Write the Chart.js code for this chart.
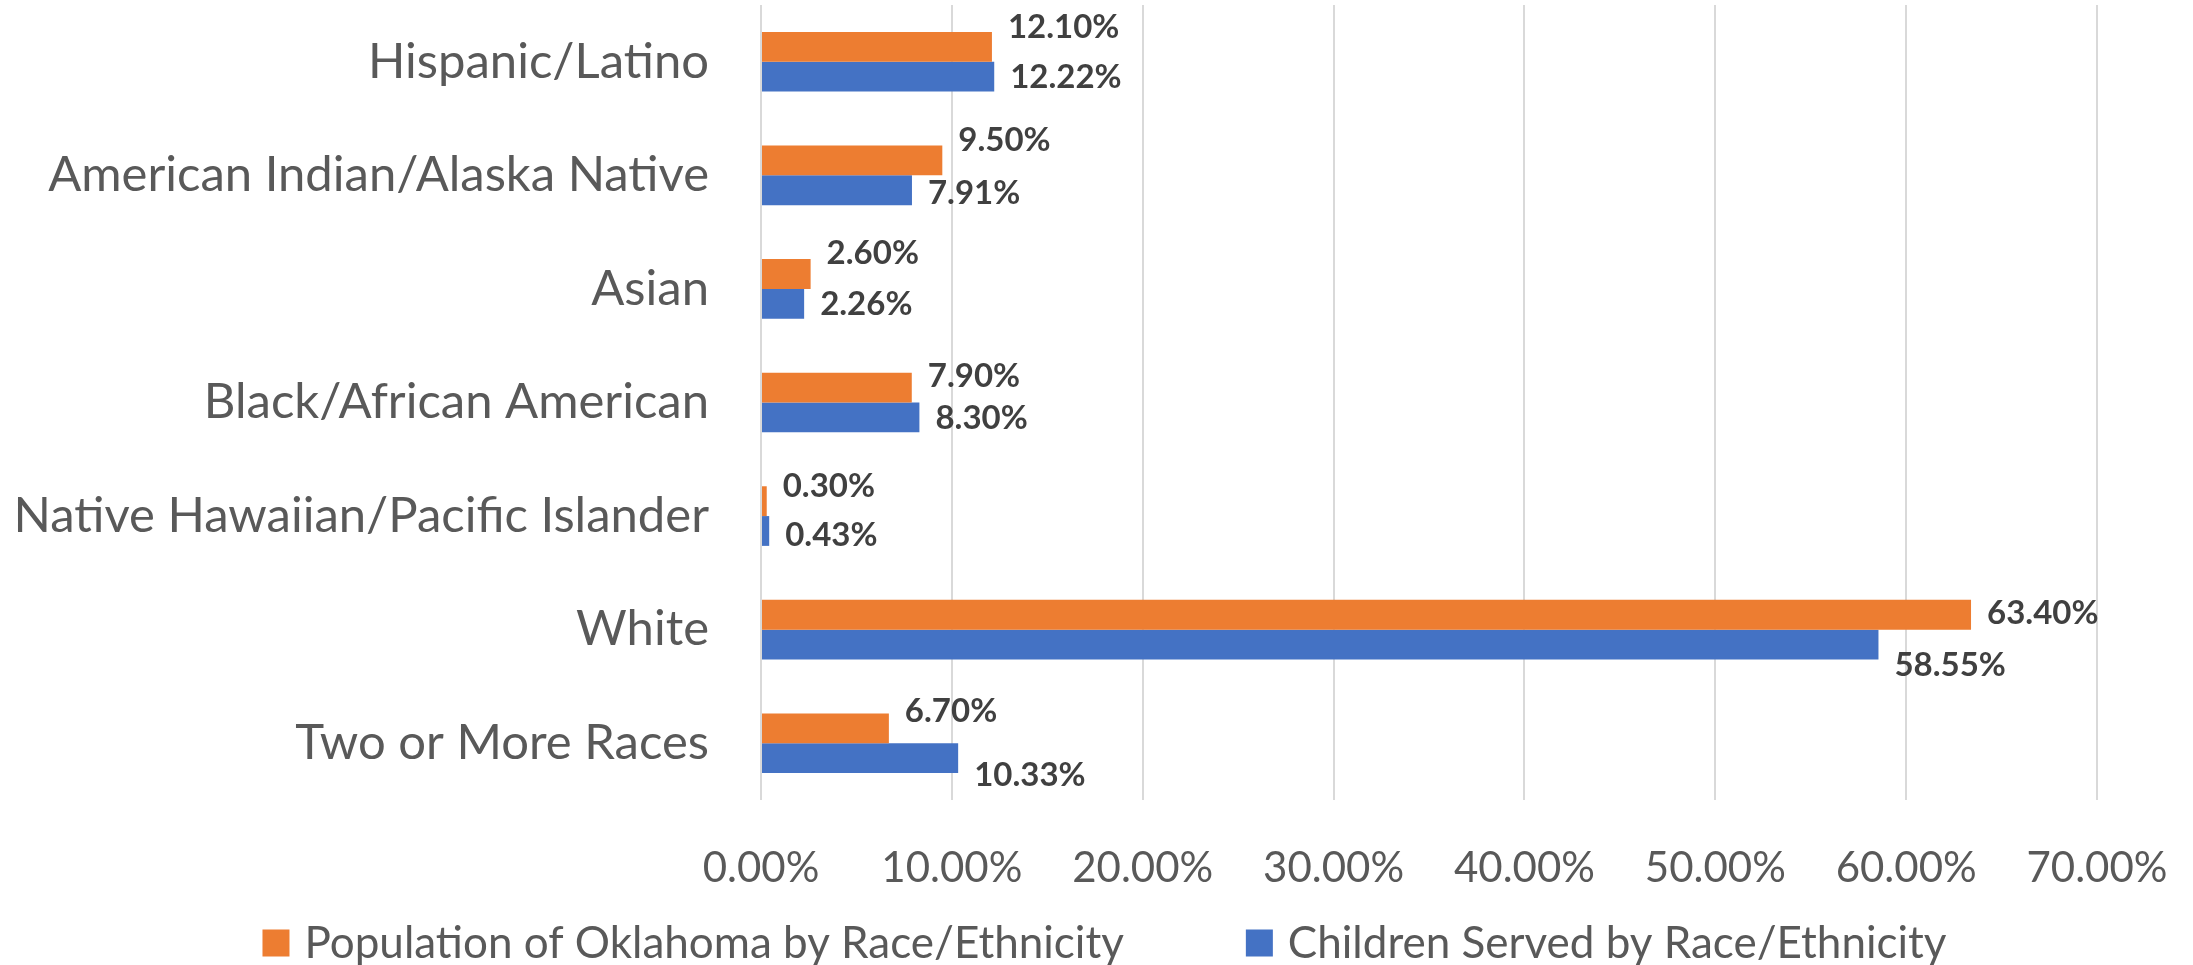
<!DOCTYPE html>
<html>
<head>
<meta charset="utf-8">
<script src="https://cdn.jsdelivr.net/npm/chart.js@4"></script>
<style>
  html, body { margin: 0; padding: 0; background: #fff; }
  #wrap { width: 2193px; height: 965px; }
</style>
</head>
<body>
<div id="wrap"><canvas id="grafica"></canvas></div>
<script>
// Categorías (eje Y)
const categorias = ["Hispanic/Latino", "American Indian/Alaska Native", "Asian",
  "Black/African American", "Native Hawaiian/Pacific Islander", "White", "Two or More Races"];

// Series (porcentajes)
const poblacion = [12.10, 9.50, 2.60, 7.90, 0.30, 63.40, 6.70];
const ninos = [12.22, 7.91, 2.26, 8.30, 0.43, 58.55, 10.33];

// Marcas del eje X
const marcasX = [0, 10, 20, 30, 40, 50, 60, 70];

const NARANJA = "#ED7D31";
const AZUL = "#4472C4";
const FUENTE = "Lato, 'Open Sans', sans-serif";

// Desplazamiento vertical de las etiquetas de datos (como en Excel)
const desplaza = [[-20, 1], [-20, 3], [-21, 1], [-11, 1], [-15, 4], [-1, 21], [-17, 17]];

const etiquetasDatos = {
  id: "etiquetasDatos",
  afterDatasetsDraw(chart) {
    const ctx = chart.ctx;
    ctx.save();
    ctx.font = "bold 33px " + FUENTE;
    ctx.fillStyle = "#404040";
    ctx.textAlign = "left";
    ctx.textBaseline = "middle";
    chart.data.datasets.forEach((ds, i) => {
      chart.getDatasetMeta(i).data.forEach((bar, j) => {
        ctx.fillText(ds.data[j].toFixed(2) + "%", bar.x + 16, bar.y + desplaza[j][i]);
      });
    });
    ctx.restore();
  }
};

// Leyenda propia en la parte inferior
const leyenda = {
  id: "leyenda",
  afterDraw(chart) {
    const ctx = chart.ctx;
    ctx.save();
    ctx.font = "44px " + FUENTE;
    ctx.textBaseline = "middle";
    ctx.textAlign = "left";
    const caja = 27, hueco = 15, entre = 122;
    const items = chart.data.datasets.map(d => ({ t: d.label, c: d.backgroundColor, w: ctx.measureText(d.label).width }));
    let total = items.reduce((s, it) => s + caja + hueco + it.w, 0) + entre * (items.length - 1);
    let x = (chart.width - total) / 2 + 8;
    const y = 943;
    items.forEach(it => {
      ctx.fillStyle = it.c;
      ctx.fillRect(x, y - caja / 2, caja, caja);
      x += caja + hueco;
      ctx.fillStyle = "#595959";
      ctx.fillText(it.t, x, y + 1);
      x += it.w + entre;
    });
    ctx.restore();
  }
};

// Quitar el relleno automático que Chart.js agrega por las etiquetas
const sinRelleno = (s) => {
  s.paddingTop = 0; s.paddingBottom = 0; s.paddingLeft = 0; s.paddingRight = 0;
};

new Chart(document.querySelector("#grafica"), {
  type: "bar",
  data: {
    labels: categorias,
    datasets: [
      { label: "Population of Oklahoma by Race/Ethnicity", data: poblacion, backgroundColor: NARANJA },
      { label: "Children Served by Race/Ethnicity", data: ninos, backgroundColor: AZUL }
    ]
  },
  options: {
    indexAxis: "y",
    responsive: true,
    maintainAspectRatio: false,
    animation: false,
    layout: { padding: { top: 5, right: 96, bottom: 80, left: 0 } },
    datasets: { bar: { categoryPercentage: 0.525, barPercentage: 1 } },
    plugins: {
      legend: { display: false },
      tooltip: { enabled: false }
    },
    scales: {
      x: {
        min: 0,
        max: 70,
        afterBuildTicks: (s) => { s.ticks = marcasX.map(v => ({ value: v })); },
        afterFit: (s) => { s.height = 85; sinRelleno(s); },
        grid: { color: "#D9D9D9", lineWidth: 2, drawTicks: false },
        border: { display: false },
        ticks: {
          padding: 43,
          color: "#595959",
          font: { family: FUENTE, size: 42 },
          callback: (v) => Number(v).toFixed(2) + "%"
        }
      },
      y: {
        afterFit: (s) => { s.width = 761; sinRelleno(s); },
        grid: { display: false, drawTicks: false },
        border: { display: false },
        ticks: {
          padding: 52,
          color: "#595959",
          font: { family: FUENTE, size: 49 }
        }
      }
    }
  },
  plugins: [etiquetasDatos, leyenda]
});
</script>
</body>
</html>
